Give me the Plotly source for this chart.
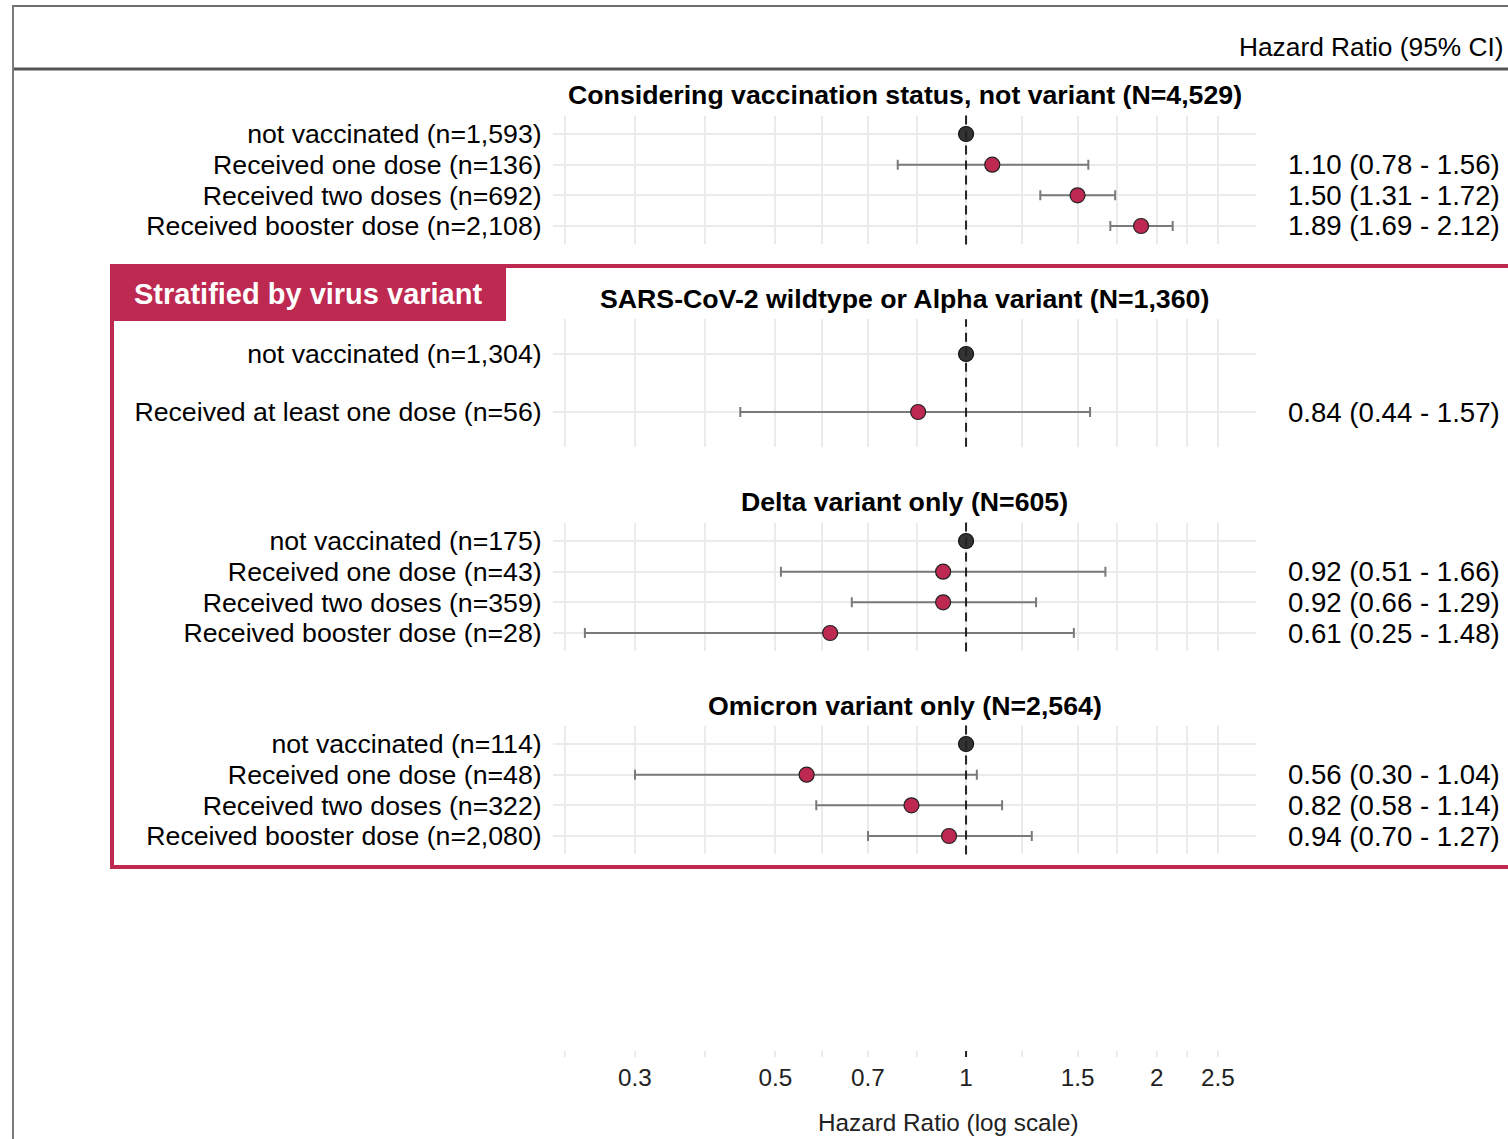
import math
import plotly.graph_objects as go

W, H = 1508, 1139

# ---------------- data ----------------
p1_title = "Considering vaccination status, not variant (N=4,529)"
p1_labels = ["not vaccinated (n=1,593)", "Received one dose (n=136)",
             "Received two doses (n=692)", "Received booster dose (n=2,108)"]
p1_hr = [1.00, 1.10, 1.50, 1.89]
p1_lo = [None, 0.78, 1.31, 1.69]
p1_hi = [None, 1.56, 1.72, 2.12]

p2_title = "SARS-CoV-2 wildtype or Alpha variant (N=1,360)"
p2_labels = ["not vaccinated (n=1,304)", "Received at least one dose (n=56)"]
p2_hr = [1.00, 0.84]
p2_lo = [None, 0.44]
p2_hi = [None, 1.57]

p3_title = "Delta variant only (N=605)"
p3_labels = ["not vaccinated (n=175)", "Received one dose (n=43)",
             "Received two doses (n=359)", "Received booster dose (n=28)"]
p3_hr = [1.00, 0.92, 0.92, 0.61]
p3_lo = [None, 0.51, 0.66, 0.25]
p3_hi = [None, 1.66, 1.29, 1.48]

p4_title = "Omicron variant only (N=2,564)"
p4_labels = ["not vaccinated (n=114)", "Received one dose (n=48)",
             "Received two doses (n=322)", "Received booster dose (n=2,080)"]
p4_hr = [1.00, 0.56, 0.82, 0.94]
p4_lo = [None, 0.30, 0.58, 0.70]
p4_hi = [None, 1.04, 1.14, 1.27]

x_ticks = [0.3, 0.5, 0.7, 1, 1.5, 2, 2.5]
x_tick_text = ["0.3", "0.5", "0.7", "1", "1.5", "2", "2.5"]

# ---------------- styling ----------------
CRIMSON = "#BE2952"
REFCOL = "#333333"
GRID = "#EBEBEB"
FONT = "Liberation Sans, Arial, sans-serif"

def px_x(p):
    return p / W

def px_y(p):
    return 1 - p / H

# panel pixel boxes (top, bottom)
panels = [
    (p1_title, p1_labels, p1_hr, p1_lo, p1_hi, 115.6, 244.4, 95),
    (p2_title, p2_labels, p2_hr, p2_lo, p2_hi, 319.2, 446.8, 299),
    (p3_title, p3_labels, p3_hr, p3_lo, p3_hi, 522.6, 651.4, 502),
    (p4_title, p4_labels, p4_hr, p4_lo, p4_hi, 725.6, 854.4, 706),
]
X_LEFT, X_RIGHT = 553, 1256
# log-scale range derived from tick pixel positions (0.3 -> 635, 2.5 -> 1218)
px_per_ln = (1218 - 635) / math.log(2.5 / 0.3)
x1_px = 635 - math.log(0.3) * px_per_ln
xr = [math.log10(math.exp((X_LEFT - x1_px) / px_per_ln)),
      math.log10(math.exp((X_RIGHT - x1_px) / px_per_ln))]

# minor grid lines: geometric midpoints of majors, plus one below the first
minor = [math.sqrt(a * b) for a, b in zip(x_ticks[:-1], x_ticks[1:])]
minor = [x_ticks[0] * math.sqrt(x_ticks[0] / x_ticks[1])] + minor

fig = go.Figure()
layout = dict(width=W, height=H, margin=dict(l=0, r=0, t=0, b=0),
              paper_bgcolor="white", plot_bgcolor="white",
              showlegend=False, font=dict(family=FONT, color="black"))
annotations = []
shapes = []

for i, (title, labels, hr, lo, hi, top, bot, ty) in enumerate(panels, start=1):
    xa = "x" if i == 1 else f"x{i}"
    ya = "y" if i == 1 else f"y{i}"
    n = len(labels)
    rows = list(range(1, n + 1))
    # reference row (no CI)
    fig.add_trace(go.Scatter(
        x=[hr[0]], y=[rows[0]], mode="markers", xaxis=xa, yaxis=ya,
        marker=dict(size=15, color=REFCOL, line=dict(color="#111111", width=1.2)),
        hoverinfo="skip"))
    # other rows
    xs = hr[1:]
    ys = rows[1:]
    ep = [h - m for h, m in zip(hi[1:], hr[1:])]
    em = [m - l for l, m in zip(lo[1:], hr[1:])]
    fig.add_trace(go.Scatter(
        x=xs, y=ys, mode="markers", xaxis=xa, yaxis=ya,
        error_x=dict(type="data", symmetric=False, array=ep, arrayminus=em,
                     color="#7A7A7A", thickness=2, width=5),
        marker=dict(size=15, color=CRIMSON, line=dict(color="#222222", width=1.2)),
        hoverinfo="skip"))
    layout[f"xaxis{'' if i == 1 else i}"] = dict(
        type="log", range=xr, domain=[px_x(X_LEFT), px_x(X_RIGHT)],
        anchor=ya, tickvals=x_ticks, showticklabels=False, ticks="",
        showgrid=True, gridcolor=GRID, gridwidth=2, zeroline=False,
        showline=False,
        minor=dict(tickvals=minor, showgrid=True, gridcolor=GRID, gridwidth=2, ticks=""),
        matches=None if i == 1 else "x")
    layout[f"yaxis{'' if i == 1 else i}"] = dict(
        range=[n + 0.6, 0.4], domain=[px_y(bot), px_y(top)], anchor=xa,
        tickvals=rows, ticktext=labels, showgrid=True, gridcolor=GRID, gridwidth=2,
        zeroline=False, showline=False, ticks="outside", ticklen=5,
        tickcolor="rgba(0,0,0,0)", tickfont=dict(size=26.7, color="black", family=FONT))
    # panel title
    annotations.append(dict(text=f"<b>{title}</b>", x=px_x((X_LEFT + X_RIGHT) / 2),
                            y=px_y(ty), xref="paper", yref="paper", showarrow=False,
                            xanchor="center", yanchor="middle",
                            font=dict(size=26.7, color="black", family=FONT)))
    # right-column HR text
    for r, m, l, h in zip(rows, hr, lo, hi):
        if l is None:
            continue
        annotations.append(dict(text=f"{m:.2f} ({l:.2f} - {h:.2f})", x=px_x(1502), y=r,
                                xref="paper", yref=ya, showarrow=False,
                                xanchor="right", yanchor="middle",
                                font=dict(size=27.6, color="black", family=FONT)))
    # reference line at HR = 1
    shapes.append(dict(type="line", xref=xa, yref=f"{ya} domain", x0=1, x1=1, y0=0, y1=1,
                       line=dict(color="#222222", width=2, dash="9px,6px"), layer="above"))

# bottom axis strip (carries the tick labels)
layout["xaxis5"] = dict(
    type="log", range=xr, domain=[px_x(X_LEFT), px_x(X_RIGHT)], anchor="y5",
    tickvals=x_ticks, ticktext=x_tick_text, showticklabels=True,
    ticks="", ticklabelstandoff=4,
    tickfont=dict(size=24.3, color="#222222", family=FONT),
    showgrid=True, gridcolor=GRID, gridwidth=2, zeroline=False, showline=False,
    minor=dict(tickvals=minor, showgrid=True, gridcolor=GRID, gridwidth=2, ticks=""),
    matches="x")
layout["yaxis5"] = dict(range=[0, 1], domain=[px_y(1057), px_y(1051)], anchor="x5",
                        showticklabels=False, showgrid=False, zeroline=False, ticks="")
fig.add_trace(go.Scatter(x=[1], y=[0.5], xaxis="x5", yaxis="y5", mode="markers",
                         marker=dict(opacity=0), hoverinfo="skip"))
shapes.append(dict(type="line", xref="x5", yref="y5 domain", x0=1, x1=1, y0=0, y1=1,
                   line=dict(color="#222222", width=2)))
annotations.append(dict(text="Hazard Ratio (log scale)", x=px_x(948), y=px_y(1122),
                        xref="paper", yref="paper", showarrow=False, xanchor="center",
                        yanchor="middle", font=dict(size=24.3, color="#222222", family=FONT)))

# header frame lines
shapes += [
    dict(type="line", xref="paper", yref="paper", x0=px_x(13), x1=1, y0=px_y(6), y1=px_y(6),
         line=dict(color="#6E6E6E", width=2)),
    dict(type="line", xref="paper", yref="paper", x0=px_x(13), x1=1, y0=px_y(69), y1=px_y(69),
         line=dict(color="#555555", width=3)),
    dict(type="line", xref="paper", yref="paper", x0=px_x(13), x1=px_x(13), y0=px_y(5), y1=0,
         line=dict(color="#7A7A7A", width=2)),
]
annotations.append(dict(text="Hazard Ratio (95% CI)", x=px_x(1506), y=px_y(47),
                        xref="paper", yref="paper", showarrow=False, xanchor="right",
                        yanchor="middle", font=dict(size=26.3, color="black", family=FONT)))

# "Stratified by virus variant" frame
shapes += [
    dict(type="rect", xref="paper", yref="paper", x0=px_x(112), x1=px_x(1530),
         y0=px_y(867), y1=px_y(266), line=dict(color=CRIMSON, width=4),
         fillcolor="rgba(0,0,0,0)"),
    dict(type="rect", xref="paper", yref="paper", x0=px_x(110), x1=px_x(506),
         y0=px_y(321), y1=px_y(264), line=dict(width=0), fillcolor=CRIMSON),
]
annotations.append(dict(text="<b>Stratified by virus variant</b>", x=px_x(132), y=px_y(294),
                        xref="paper", yref="paper", showarrow=False, xanchor="left",
                        yanchor="middle", font=dict(size=29, color="white", family=FONT)))

layout["annotations"] = annotations
layout["shapes"] = shapes
fig.update_layout(**layout)
fig.write_html("out.html", config={"displayModeBar": False},
               post_script="document.body.style.margin='0';document.body.style.overflow='hidden';")
